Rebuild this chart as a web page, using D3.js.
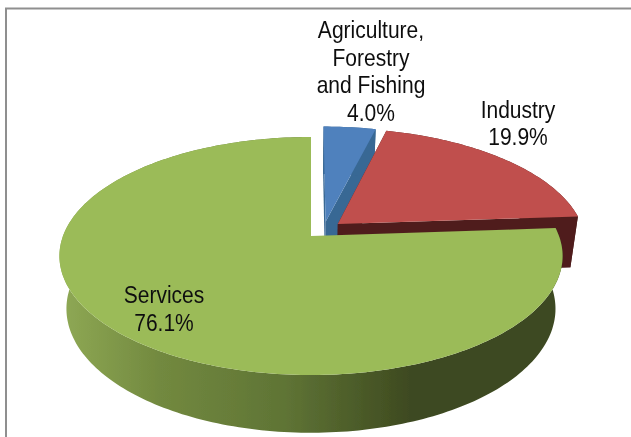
<!DOCTYPE html>
<html>
<head>
<meta charset="utf-8">
<script src="https://cdn.jsdelivr.net/npm/d3@7"></script>
<style>html,body{margin:0;padding:0;background:#fff}svg{display:block}text{font-family:"Liberation Sans",Arial,sans-serif;fill:#111}</style>
</head>
<body>
<svg id="c" width="631" height="437"></svg>
<script>
const categories = ["Agriculture, Forestry and Fishing", "Industry", "Services"];
const values = [4.0, 19.9, 76.1];
const valueLabels = ["4.0%", "19.9%", "76.1%"];
const topColors = ["#4f81bd", "#c0504d", "#9bbb59"];
const sideColors = ["#386794", "#4f1f1e", "url(#g)"];
const explode = [[0.06, 0.125], [0.11, 0.105], [0, 0]];
const labelLines = [["Agriculture,", "Forestry", "and Fishing", "4.0%"], ["Industry", "19.9%"], ["Services", "76.1%"]];
const labelPos = [[371, 38, 27.7], [518, 118, 27], [164, 303, 27.5]];

const svg = d3.select("#c");
const defs = svg.append("defs");
const grad = defs.append("linearGradient").attr("id", "g").attr("gradientUnits", "userSpaceOnUse")
  .attr("x1", 60).attr("x2", 560).attr("y1", 0).attr("y2", 0);
[[0, "#8fa955"], [0.2, "#72893f"], [0.45, "#5f7435"], [0.7, "#3e4a20"], [1, "#3e4a20"]]
  .forEach(s => grad.append("stop").attr("offset", s[0]).attr("stop-color", s[1]));
defs.append("filter").attr("id", "soft").attr("x", "-5%").attr("y", "-5%").attr("width", "110%").attr("height", "110%")
  .append("feGaussianBlur").attr("stdDeviation", 0.4);

const root = svg.append("g").attr("filter", "url(#soft)");
root.append("path").attr("d", "M640,8.5H6V445").attr("fill", "none").attr("stroke", "#8f8f8f").attr("stroke-width", 2);

const x0 = 311, y0 = 236, R = 248, ka = -76, kc = 0.168;
const top3 = (u, v) => [x0 + R * u / (1 + kc * v), (ka * v + y0) / (1 + kc * v)];
const base3 = (p) => [309.5 + 0.972 * (p[0] - 309.5), 42 + 1.042 * p[1]];

const arcs = d3.pie().sort(null).value(d => d)(values);

function ring(a, e) {
  const n = Math.ceil((a.endAngle - a.startAngle) / 0.02), pts = [];
  for (let i = 0; i <= n; i++) {
    const t = a.startAngle + (a.endAngle - a.startAngle) * i / n;
    pts.push(top3(e[0] + Math.sin(t), e[1] + Math.cos(t)));
  }
  return pts;
}
const line = d3.line();
arcs.forEach((a, i) => {
  const e = explode[i], rim = ring(a, e), apex = top3(e[0], e[1]);
  const g = root.append("g");
  const rimBase = rim.map(base3), apexBase = base3(apex);
  const last = rim[rim.length - 1], lastB = rimBase[rimBase.length - 1];
  const first = rim[0], firstB = rimBase[0];
  const flat = i === 2 ? null : sideColors[i];
  if (flat) {
    g.append("path").attr("d", line([first, apex, apexBase, firstB]) + "Z").attr("fill", flat);
    g.append("path").attr("d", line([last, apex, apexBase, lastB]) + "Z").attr("fill", flat);
  }
  g.append("path").attr("d", line(rim.concat(rimBase.slice().reverse())) + "Z").attr("fill", sideColors[i]);
  g.append("path").attr("d", line([apex].concat(rim)) + "Z").attr("fill", topColors[i]);
});

labelLines.forEach((ls, i) => {
  const p = labelPos[i];
  ls.forEach((s, j) => {
    root.append("text").attr("text-anchor", "middle")
      .attr("transform", `translate(${p[0]},${p[1] + j * p[2]}) scale(0.876,1)`)
      .attr("font-size", 24).text(s);
  });
});
</script>
</body>
</html>
